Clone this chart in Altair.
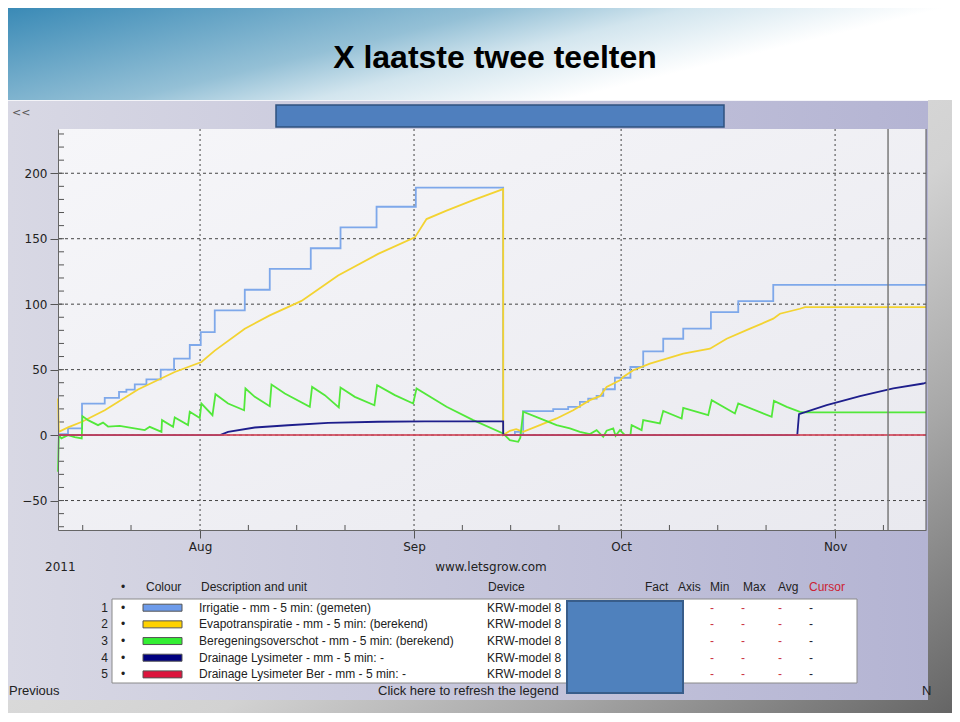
import altair as alt
import pandas as pd

BASE = pd.Timestamp("2011-07-01")

# ---- data: x = days since 2011-07-01, y = mm ----
irr_day = [10.42, 11.87, 13.90, 17.19, 19.26, 20.33, 21.54, 23.23, 25.30, 27.23,
           29.51, 31.10, 33.13, 37.48, 41.10, 47.04, 51.35, 56.57, 62.26, 74.91,
           76.61, 77.43, 77.81, 82.16, 84.33, 86.03, 87.23, 88.45, 89.41, 91.10,
           93.35, 95.20, 98.10, 101.00, 105.01, 108.97, 114.04, 136.17]
irr_val = [0.8, 5.1, 24.1, 28.4, 33.0, 34.8, 38.8, 42.6, 50.0, 58.4,
           68.8, 78.7, 95.2, 111.0, 127.0, 142.7, 158.6, 174.4, 189.0, 0.0,
           2.5, 0.0, 18.3, 19.8, 21.6, 25.4, 27.9, 29.9, 35.0, 43.8,
           52.0, 64.0, 73.6, 81.3, 93.9, 102.3, 114.8, 114.8]

et_day = [10.42, 10.55, 11.87, 13.90, 17.19, 22.01, 27.33, 31.20, 33.13, 37.48,
          41.10, 45.70, 51.00, 56.80, 62.12, 63.81, 66.71, 70.57, 74.91, 74.92,
          75.88, 76.80, 77.81, 80.23, 82.65, 85.06, 87.48, 88.93, 89.90, 91.83,
          92.30, 93.75, 96.17, 101.00, 104.87, 107.29, 110.67, 114.04, 115.01, 117.91,
          118.64, 136.17]
et_val = [28.0, 2.5, 5.9, 10.2, 19.0, 34.8, 48.2, 55.8, 64.5, 81.3,
          91.4, 102.5, 121.9, 138.4, 151.0, 165.0, 171.4, 179.5, 187.9, 0.0,
          3.3, 4.5, 2.5, 7.6, 12.7, 19.0, 26.7, 29.7, 36.8, 41.9,
          44.4, 49.5, 54.6, 62.2, 66.0, 73.6, 81.3, 88.9, 92.7, 96.5,
          97.7, 97.7]

gr_day = [10.42, 10.50, 10.55, 10.91, 11.87, 12.84, 13.86, 13.96, 14.77, 16.22,
          16.94, 17.67, 19.36, 21.06, 22.99, 23.71, 25.41, 25.49, 27.09, 27.33,
          29.26, 29.51, 30.96, 31.20, 32.80, 33.23, 35.06, 37.38, 37.58, 38.93,
          41.10, 41.35, 43.28, 46.90, 47.23, 49.07, 51.10, 51.35, 53.42, 56.26,
          56.65, 59.22, 61.87, 62.36, 66.71, 70.57, 74.91, 75.88, 77.09, 77.40,
          77.81, 80.23, 82.65, 84.58, 86.03, 87.48, 88.45, 89.41, 89.90, 90.86,
          91.20, 91.83, 92.55, 93.35, 93.52, 94.97, 95.20, 97.62, 98.10, 100.77,
          101.00, 104.62, 105.12, 108.49, 108.97, 113.81, 114.14, 115.99, 117.91, 118.50,
          136.17]
gr_val = [-28.0, -10.0, 0.0, -2.5, 0.0, -1.5, -2.5, 14.5, 11.4, 7.6,
          9.5, 6.5, 7.0, 5.5, 3.8, 6.3, 2.5, 11.4, 6.3, 13.5,
          7.6, 17.8, 13.0, 24.1, 15.2, 31.2, 24.1, 19.0, 35.6, 29.2,
          22.1, 38.6, 31.7, 21.6, 36.8, 30.5, 21.1, 36.3, 29.2, 22.8,
          38.1, 30.5, 24.1, 35.6, 21.6, 11.4, 1.3, -3.8, -5.1, -2.0,
          17.8, 12.7, 7.6, 5.1, 2.5, 0.8, 3.8, -1.3, 3.3, 5.1,
          -0.5, 3.8, 0.0, 0.0, 7.6, 3.8, 11.4, 8.9, 18.5, 12.7,
          20.8, 15.2, 26.7, 16.5, 24.1, 14.0, 26.1, 21.6, 17.8, 17.3,
          17.3]

dr_day = [10.42, 33.89, 35.06, 38.93, 43.76, 49.56, 56.80, 63.57, 74.91, 74.92,
          117.52, 117.77, 121.78, 126.61, 131.43, 135.78, 136.17]
dr_val = [0.0, 0.0, 2.5, 5.8, 7.5, 9.4, 10.2, 10.4, 10.4, 0.0,
          0.0, 16.0, 22.8, 29.7, 35.6, 39.4, 40.0]

red_day = [10.42, 136.17]
red_val = [0.0, 0.0]

cursor_day = [130.67]
x_domain_days = [10.42, 136.17]
y_domain = [-72.5, 233.8]
month_days = [31, 62, 92, 123]
week_days = [14, 21, 38, 45, 52, 69, 76, 83, 99, 106, 113, 130]
y_major = [-50, 0, 50, 100, 150, 200]
y_minor = list(range(-70, 231, 10))

series_names = ["Irrigatie - mm - 5 min: (gemeten)",
                "Evapotranspiratie - mm - 5 min: (berekend)",
                "Beregeningsoverschot - mm - 5 min: (berekend)",
                "Drainage Lysimeter - mm - 5 min: -",
                "Drainage Lysimeter Ber - mm - 5 min: -"]
swatch_colors = ["#6d9bea", "#ffd200", "#33ee33", "#00007f", "#dc143c"]
line_colors = ["#7ea8ea", "#f3d331", "#52e83a", "#1e1e8c", "#d0485a"]


def to_time(days):
    return [(BASE + pd.Timedelta(days=d)).round("min") for d in days]


def dt(d):
    ts = (BASE + pd.Timedelta(days=d)).round("min")
    return alt.DateTime(year=ts.year, month=ts.month, date=ts.day,
                        hours=ts.hour, minutes=ts.minute)


def frame(days, vals=None):
    df = pd.DataFrame({"t": to_time(days)})
    if vals is not None:
        df["v"] = vals
    return df


W, H = 868, 401
one = pd.DataFrame({"k": [0]})

xscale = alt.Scale(domain=[dt(x_domain_days[0]), dt(x_domain_days[1])])
yscale = alt.Scale(domain=y_domain, nice=False, zero=False)
xaxis = alt.Axis(values=[dt(d) for d in month_days], format="%b", tickSize=8,
                 labelPadding=3, grid=False, domainColor="#666", tickColor="#555",
                 labelColor="#222", labelFont="DejaVu Sans", labelFontSize=12,
                 title=None, zindex=1, labelAngle=0, labelFlush=False)
yaxis = alt.Axis(values=y_major, tickSize=8, labelPadding=3, grid=False,
                 domainColor="#666", tickColor="#555", labelColor="#222",
                 labelFont="DejaVu Sans", labelFontSize=12, title=None, zindex=1)
X = alt.X("t:T", scale=xscale, axis=xaxis)
Y = alt.Y("v:Q", scale=yscale, axis=yaxis)


def grad(stops, x1=0, y1=0, x2=1, y2=0):
    return {"gradient": "linear", "x1": x1, "y1": y1, "x2": x2, "y2": y2,
            "stops": [{"offset": o, "color": c} for o, c in stops]}


def box(x, x2, y, y2, fill, stroke=None, sw=0):
    kw = {"color": fill}
    if stroke:
        kw.update(stroke=stroke, strokeWidth=sw)
    return alt.Chart(one).mark_rect(**kw).encode(
        x=alt.value(x), x2=alt.value(x2), y=alt.value(y), y2=alt.value(y2))


def txt(s, x, y, size=12, font="Liberation Sans", color="#222", align="left",
        weight="normal"):
    return alt.Chart(one).mark_text(text=s, font=font, fontSize=size, color=color,
                                    align=align, baseline="middle",
                                    fontWeight=weight).encode(
        x=alt.value(x), y=alt.value(y))


layers = []
# slide background & title band
layers.append(box(-50, 900, -121, 600, grad(
    [(0, "#f2f2f2"), (0.5, "#d8d8d8"), (0.6, "#d2d2d2"), (0.77, "#a8a8a8"),
     (0.97, "#6a6a6a"), (1, "#606060")], 0, 0, 1, 1)))
layers.append(box(-50, 900, -121, -29, grad(
    [(0, "#3a8ab6"), (0.45, "#94c0d6"), (0.62, "#d2e5ee"), (0.85, "#ffffff"),
     (1, "#ffffff")], 0, 0, 1, 0.4)))
layers.append(txt("X laatste twee teelten", 437, -71, size=32, weight="bold",
                  color="#000", align="center"))
# screenshot window
layers.append(box(-50, 870, -29, 571, grad([(0, "#d8d8e4"), (1, "#b4b4d3")])))
layers.append(box(-50, 870, -29, -28, "#f4f4f8"))
layers.append(txt("<<", -46, -16, size=11, font="DejaVu Sans", color="#555"))
layers.append(box(218, 666, -24, -2, "#4f7fbe", "#2f527f", 1.5))
# plot background
layers.append(box(0, W, 0, H, grad([(0, "#f6f6f9"), (1, "#e9e9ef")], 0, 0, 1, 1)))

# gridlines
layers.append(alt.Chart(pd.DataFrame({"v": y_major})).mark_rule(
    color="#444", strokeWidth=1, strokeDash=[3, 3]).encode(y=Y))
layers.append(alt.Chart(frame(month_days)).mark_rule(
    color="#444", strokeWidth=1, strokeDash=[2, 3]).encode(x=X))
# minor ticks
layers.append(alt.Chart(pd.DataFrame({"v": y_minor})).mark_rule(
    color="#555", strokeWidth=1).encode(y=Y, x=alt.value(0), x2=alt.value(6)))
layers.append(alt.Chart(frame(week_days)).mark_rule(
    color="#555", strokeWidth=1).encode(x=X, y=alt.value(H), y2=alt.value(H - 5)))

# data lines
layers.append(alt.Chart(frame(irr_day, irr_val)).mark_line(
    color=line_colors[0], strokeWidth=1.8, interpolate="step-after").encode(x=X, y=Y))
layers.append(alt.Chart(frame(et_day, et_val)).mark_line(
    color=line_colors[1], strokeWidth=1.8).encode(x=X, y=Y))
layers.append(alt.Chart(frame(gr_day, gr_val)).mark_line(
    color=line_colors[2], strokeWidth=1.8).encode(x=X, y=Y))
layers.append(alt.Chart(frame(dr_day, dr_val)).mark_line(
    color=line_colors[3], strokeWidth=1.8).encode(x=X, y=Y))
layers.append(alt.Chart(frame(red_day, red_val)).mark_line(
    color=line_colors[4], strokeWidth=2, opacity=0.85).encode(x=X, y=Y))
# cursor line and right border
layers.append(alt.Chart(frame(cursor_day)).mark_rule(
    color="#7a7a7a", strokeWidth=1.5).encode(x=X))
layers.append(alt.Chart(one).mark_rule(color="#555", strokeWidth=1).encode(
    x=alt.value(W), y=alt.value(0), y2=alt.value(H)))

# bottom texts
layers.append(txt("2011", -13, 438, font="DejaVu Sans"))
layers.append(txt("www.letsgrow.com", 433, 438, font="DejaVu Sans", align="center"))

# legend table
hy = 458
layers.append(txt("•", 65, hy, align="center"))
for s, x in [("Colour", 88), ("Description and unit", 143), ("Device", 430),
             ("Fact", 587), ("Axis", 620), ("Min", 652), ("Max", 685), ("Avg", 720)]:
    layers.append(txt(s, x, hy))
layers.append(txt("Cursor", 751, hy, color="#cc2233"))
layers.append(box(54, 799, 470, 554, "#ffffff", "#8a8a8a", 1))
for i, name in enumerate(series_names):
    ry = 478.7 + i * 16.67
    layers.append(txt(str(i + 1), 50, ry, align="right"))
    layers.append(txt("•", 65, ry, align="center"))
    layers.append(box(85, 124, ry - 3.5, ry + 3.5, swatch_colors[i], "#555", 1))
    layers.append(txt(name, 141, ry))
    layers.append(txt("KRW-model 8", 429, ry))
    for dx, c in [(654, "#cc3344"), (685, "#cc3344"), (722, "#cc3344"), (753, "#223")]:
        layers.append(txt("-", dx, ry, color=c, align="center"))
layers.append(box(509, 625, 472, 564, "#4f81bd", "#385d8a", 2))
layers.append(txt("Previous", -49, 562, size=13))
layers.append(txt("Click here to refresh the legend", 320, 562, size=13))
layers.append(txt("N", 864, 562, size=13))

chart = alt.layer(*layers).properties(
    width=W, height=H,
    autosize=alt.AutoSizeParams(type="none"),
    padding={"left": 50, "top": 121, "right": 26, "bottom": 183},
    background="#ffffff",
).configure_view(stroke=None)

chart.save("out.html", embed_options={"renderer": "svg", "actions": False})
